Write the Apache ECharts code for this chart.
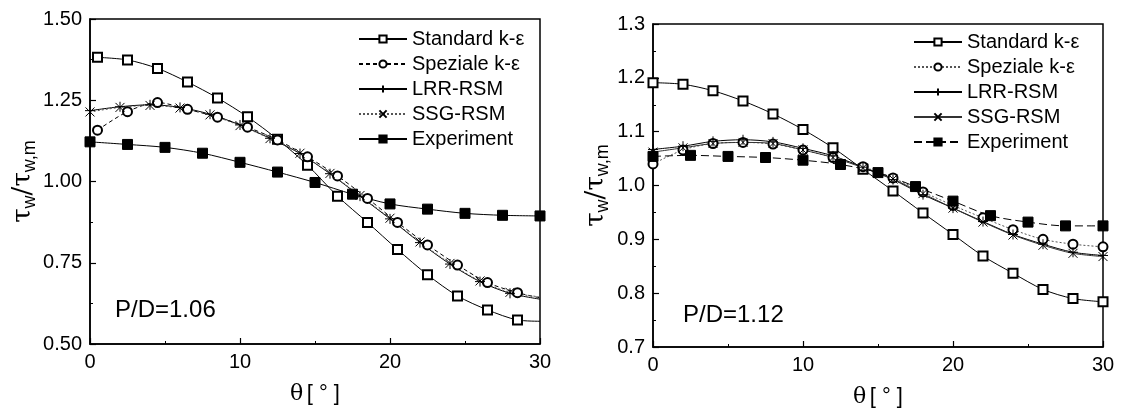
<!DOCTYPE html>
<html>
<head>
<meta charset="utf-8">
<script src="https://cdn.jsdelivr.net/npm/echarts@6/dist/echarts.min.js"></script>
<style>
  html, body { margin: 0; padding: 0; background: #fff; }
  #chart { width: 1122px; height: 413px; }
</style>
</head>
<body>
<div id="chart"></div>
<script>
// ---- P/D = 1.06 (left panel) ----
const kThetaL = [0.5, 2.5, 4.5, 6.5, 8.5, 10.5, 12.5, 14.5, 16.5, 18.5, 20.5, 22.5, 24.5, 26.5, 28.5, 30];
const stdL = [1.382, 1.374, 1.348, 1.306, 1.257, 1.199, 1.130, 1.050, 0.955, 0.874, 0.791, 0.713, 0.648, 0.605, 0.574, 0.570];
const spzL = [1.158, 1.215, 1.243, 1.222, 1.198, 1.167, 1.128, 1.076, 1.017, 0.948, 0.874, 0.805, 0.743, 0.689, 0.658, 0.642];
const rsmThetaL = [0, 2, 4, 6, 8, 10, 12, 14, 16, 18, 20, 22, 24, 26, 28, 30];
const lrrL = [1.218, 1.230, 1.236, 1.228, 1.207, 1.174, 1.133, 1.086, 1.024, 0.955, 0.885, 0.812, 0.746, 0.692, 0.656, 0.638];
const ssgL = [1.214, 1.228, 1.234, 1.226, 1.205, 1.172, 1.132, 1.087, 1.025, 0.957, 0.887, 0.814, 0.748, 0.694, 0.659, 0.645];
const expTheta = [0, 2.5, 5, 7.5, 10, 12.5, 15, 17.5, 20, 22.5, 25, 27.5, 30];
const expL = [1.122, 1.114, 1.105, 1.087, 1.059, 1.029, 0.997, 0.961, 0.931, 0.915, 0.902, 0.896, 0.894];

// ---- P/D = 1.12 (right panel) ----
const thetaR = [0, 2, 4, 6, 8, 10, 12, 14, 16, 18, 20, 22, 24, 26, 28, 30];
const stdR = [1.191, 1.188, 1.176, 1.157, 1.133, 1.104, 1.070, 1.030, 0.990, 0.949, 0.909, 0.869, 0.837, 0.807, 0.790, 0.784];
const spzR = [1.040, 1.066, 1.078, 1.080, 1.077, 1.066, 1.052, 1.035, 1.014, 0.988, 0.963, 0.940, 0.918, 0.900, 0.891, 0.886];
const lrrR = [1.067, 1.073, 1.082, 1.085, 1.081, 1.069, 1.055, 1.034, 1.011, 0.983, 0.958, 0.933, 0.909, 0.891, 0.876, 0.870];
const ssgR = [1.062, 1.070, 1.078, 1.080, 1.078, 1.066, 1.052, 1.033, 1.012, 0.985, 0.958, 0.932, 0.908, 0.889, 0.874, 0.868];
const expR = [1.054, 1.056, 1.054, 1.052, 1.047, 1.039, 1.024, 0.998, 0.971, 0.944, 0.932, 0.925, 0.925];

const names = ['Standard k-ε', 'Speziale k-ε', 'LRR-RSM', 'SSG-RSM', 'Experiment'];
const R = ' (R)';

const FONT = 'Liberation Sans';
const PLUS = 'path://M5,0L5,10M0,5L10,5';
const CROSS = 'path://M0,0L10,10M10,0L0,10';

// pair up x/y, optionally hiding the marker on the last point
function pts(xs, ys, hideLast) {
  return xs.map((x, i) => {
    if (hideLast && i === xs.length - 1) return { value: [x, ys[i]], symbol: 'none' };
    return [x, ys[i]];
  });
}

function mk(name, idx, data, symbol, size, line, fill) {
  return {
    name: name,
    type: 'line',
    xAxisIndex: idx,
    yAxisIndex: idx,
    data: data,
    smooth: 0.3,
    symbol: symbol,
    symbolSize: size,
    showAllSymbol: true,
    lineStyle: Object.assign({ color: '#000', width: 1 }, line),
    itemStyle: { color: fill || '#000', borderColor: '#000', borderWidth: 1 },
    emphasis: { disabled: true },
    animation: false
  };
}

function xAx(idx) {
  return {
    type: 'value', gridIndex: idx, min: 0, max: 30, interval: 10,
    name: '{a|θ} {b|[ ° ]}',
    nameLocation: 'middle', nameGap: 39,
    nameTextStyle: {
      rich: {
        a: { fontFamily: 'DejaVu Serif', fontSize: 22, color: '#000' },
        b: { fontFamily: FONT, fontSize: 22, color: '#000' }
      }
    },
    axisLine: { lineStyle: { color: '#000', width: 1.5 } },
    axisTick: { inside: true, length: 6, lineStyle: { color: '#000', width: 1.2 } },
    minorTick: { show: true, splitNumber: 2, length: 3, lineStyle: { color: '#000' } },
    axisLabel: { color: '#000', fontFamily: FONT, fontSize: 20, margin: 8 },
    splitLine: { show: false }
  };
}

function yAx(idx, min, max, interval, digits, gap) {
  return {
    type: 'value', gridIndex: idx, min: min, max: max, interval: interval,
    name: '{t|τ}{s|w}{t|/τ}{s|w,m}',
    nameLocation: 'middle', nameRotate: 90, nameGap: gap,
    nameTextStyle: {
      rich: {
        t: { fontFamily: 'DejaVu Serif', fontSize: 26, lineHeight: 32, verticalAlign: 'middle', color: '#000' },
        s: { fontFamily: FONT, fontSize: 18, lineHeight: 18, verticalAlign: 'bottom', color: '#000' }
      }
    },
    axisLine: { show: true, lineStyle: { color: '#000', width: 1.5 } },
    axisTick: { show: true, inside: true, length: 6, lineStyle: { color: '#000', width: 1.2 } },
    minorTick: { show: true, splitNumber: 2, length: 3, lineStyle: { color: '#000' } },
    axisLabel: { color: '#000', fontFamily: FONT, fontSize: 20, margin: 8,
      formatter: v => v.toFixed(digits) },
    splitLine: { show: false }
  };
}

function legend(left, top, suffix) {
  return {
    orient: 'vertical', left: left, top: top,
    itemWidth: 48, itemHeight: 9, itemGap: 5,
    data: names.map(n => n + suffix),
    formatter: n => n.replace(R, ''),
    textStyle: { color: '#000', fontFamily: FONT, fontSize: 20 },
    selectedMode: false
  };
}

const chart = echarts.init(document.getElementById('chart'));
chart.setOption({
  backgroundColor: '#fff',
  animation: false,
  title: [
    { text: 'P/D=1.06', left: 115, top: 298, padding: 0,
      textStyle: { fontFamily: FONT, fontSize: 24, fontWeight: 'normal', color: '#000' } },
    { text: 'P/D=1.12', left: 683, top: 303, padding: 0,
      textStyle: { fontFamily: FONT, fontSize: 24, fontWeight: 'normal', color: '#000' } }
  ],
  grid: [
    { left: 90, top: 19, width: 450, height: 325, show: true, borderColor: '#000', borderWidth: 1.5 },
    { left: 653, top: 24, width: 450, height: 324, show: true, borderColor: '#000', borderWidth: 1.5 }
  ],
  legend: [legend(353, 24, ''), legend(908, 27, R)],
  xAxis: [xAx(0), xAx(1)],
  yAxis: [yAx(0, 0.5, 1.5, 0.25, 2, 48), yAx(1, 0.7, 1.3, 0.1, 1, 41)],
  series: [
    mk(names[0], 0, pts(kThetaL, stdL, true), 'emptyRect', 9, {}),
    mk(names[1], 0, pts(kThetaL, spzL, true), 'emptyCircle', 9, { type: [4, 3] }),
    mk(names[2], 0, pts(rsmThetaL, lrrL, true), PLUS, 10, {}),
    mk(names[3], 0, pts(rsmThetaL, ssgL, true), CROSS, 9, { type: [2, 2], color: '#555' }),
    mk(names[4], 0, pts(expTheta, expL, false), 'rect', 10, {}),

    mk(names[0] + R, 1, pts(thetaR, stdR, false), 'emptyRect', 9, {}),
    mk(names[1] + R, 1, pts(thetaR, spzR, false), 'emptyCircle', 9, { type: [2, 2], color: '#555' }),
    mk(names[2] + R, 1, pts(thetaR, lrrR, false), PLUS, 10, {}),
    mk(names[3] + R, 1, pts(thetaR, ssgR, false), CROSS, 9, { color: '#333' }),
    mk(names[4] + R, 1, pts(expTheta, expR, false), 'rect', 10, { type: [8, 4] })
  ]
});
</script>
</body>
</html>
